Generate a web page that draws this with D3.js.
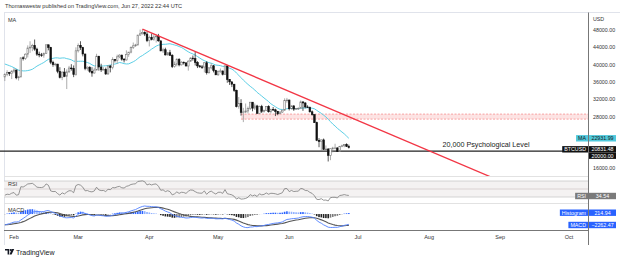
<!DOCTYPE html>
<html>
<head>
<meta charset="utf-8">
<script src="https://cdn.jsdelivr.net/npm/d3@7"></script>
<style>
  body { margin: 0; background: #fff; }
  svg { display: block; font-family: "Liberation Sans", Arial, sans-serif; }
</style>
</head>
<body>
<div id="chart"></div>
<script>
const width = 624, height = 260;

// BTCUSD daily candles, 2022-01-28 .. 2022-06-27
const firstDay = Date.UTC(2022, 0, 28);
const opens = [
  37150, 37710, 38170, 37920,
  38480, 38740, 36950, 37150, 41570, 41380, 42410, 43840, 44040, 44370, 43570, 42410, 42240, 42200, 42590, 44580, 43960, 40540, 40000, 40120, 38430, 37020, 38270, 37300, 38330, 39210, 39110, 37700,
  43190, 44420, 43920, 42450, 39140, 39400, 38420, 38060, 38740, 41940, 39440, 38790, 38900, 37850, 39670, 39340, 41140, 40950, 41800, 42190, 41250, 41080, 42370, 42890, 43960, 44350, 44550, 46820, 47130, 47460, 47060,
  45540, 46280, 45810, 46410, 46580, 45500, 43170, 43440, 42250, 42750, 42160, 39530, 40080, 41150, 39940, 40550, 40380, 39680, 40800, 41500, 41370, 40480, 39710, 39470, 39450, 40430, 38120, 39240, 39740, 38600,
  37630, 38470, 38530, 37750, 39690, 36550, 36010, 35470, 34060, 30300, 31020, 28940, 29050, 29280, 29860, 31310, 29930, 30440, 28720, 30310, 29200, 29430, 30320, 29100, 29650, 29540, 29200, 28630, 29030, 29470, 31730,
  31800, 29800, 30450, 29700, 29860, 29910, 31370, 31130, 30210, 30110, 29090, 28420, 26580, 22490, 22210, 22590, 20380, 20470, 19020, 20550, 20710, 20720, 19970, 21090, 21230, 21500, 21040
];
const highs = [
  38000, 38700, 38300, 38700,
  39200, 38850, 37400, 41650, 41900, 42600, 44450, 45400, 44800, 45800, 43900, 43000, 42700, 42800, 44600, 44600, 44100, 40900, 40400, 40150, 39400, 38400, 39200, 38900, 39700, 40100, 39800, 44000,
  44900, 45400, 44100, 42500, 39600, 39600, 39400, 39300, 42500, 42000, 40200, 39400, 39300, 39900, 39900, 41700, 41300, 42300, 42400, 42300, 41500, 43300, 42900, 44200, 45100, 44800, 46900, 48100, 48200, 47700, 47600,
  46700, 47200, 47000, 46900, 47100, 45500, 43900, 43900, 42800, 43400, 42400, 40700, 41500, 41500, 40800, 40700, 40600, 41000, 41700, 42100, 42900, 40800, 39900, 39900, 40600, 40800, 39400, 40300, 39900, 38800,
  38600, 39100, 38600, 39900, 39800, 36600, 36100, 35500, 34200, 32500, 32000, 30000, 31000, 30300, 31300, 31300, 31000, 30700, 30500, 30700, 29600, 30400, 30600, 29800, 30200, 29800, 29300, 29200, 29500, 32200, 32300,
  31900, 30600, 30600, 29900, 30100, 31700, 31500, 31300, 30600, 30300, 29400, 28500, 26800, 23000, 22700, 22900, 21300, 20700, 20600, 21000, 21700, 20900, 21200, 21500, 21600, 21800, 21500
];
const lows = [
  36200, 37300, 37400, 36650,
  38000, 36600, 36300, 37050, 40950, 41100, 41650, 42700, 43100, 43200, 42000, 41700, 41800, 41600, 42450, 43300, 40100, 39500, 39600, 38000, 36800, 36400, 37100, 34350, 38050, 38600, 37100, 37450,
  42800, 43400, 41900, 38700, 38600, 38100, 37200, 37900, 38700, 38600, 38300, 38700, 37600, 37600, 38200, 38900, 40500, 40200, 41500, 40900, 40500, 40900, 41800, 42600, 43600, 44100, 44400, 46700, 46950, 46600, 45200,
  44200, 45600, 45500, 45100, 45300, 43100, 42700, 42100, 42100, 42000, 39200, 39300, 39600, 39600, 39800, 40000, 39600, 38600, 40600, 40900, 39800, 39200, 39300, 39000, 38200, 37700, 37900, 38900, 38200, 37600,
  37400, 38100, 37500, 37600, 35800, 35300, 34800, 33700, 30100, 29800, 28200, 26700, 28800, 28700, 29500, 29200, 29500, 28700, 28700, 28800, 28900, 29300, 28900, 28700, 29300, 28100, 28300, 28600, 28800, 29300, 31200,
  29400, 29600, 29300, 29500, 29500, 29900, 29300, 29900, 30000, 28900, 28200, 26500, 22300, 20900, 20100, 20300, 20300, 17600, 17900, 19700, 20400, 19800, 19900, 20900, 20900, 21000, 20600
];
const closes = [
  37710, 38170, 37920, 38480,
  38740, 36950, 37150, 41570, 41380, 42410, 43840, 44040, 44370, 43570, 42410, 42240, 42200, 42590, 44580, 43960, 40540, 40000, 40120, 38430, 37020, 38270, 37300, 38330, 39210, 39110, 37700, 43190,
  44420, 43920, 42450, 39140, 39400, 38420, 38060, 38740, 41940, 39440, 38790, 38900, 37850, 39670, 39340, 41140, 40950, 41800, 42190, 41250, 41080, 42370, 42890, 43960, 44350, 44550, 46820, 47130, 47460, 47060, 45540,
  46280, 45810, 46410, 46580, 45500, 43170, 43440, 42250, 42750, 42160, 39530, 40080, 41150, 39940, 40550, 40380, 39680, 40800, 41500, 41370, 40480, 39710, 39470, 39450, 40430, 38120, 39240, 39740, 38600, 37630,
  38470, 38530, 37750, 39690, 36550, 36010, 35470, 34060, 30300, 31020, 28940, 29050, 29280, 29860, 31310, 29930, 30440, 28720, 30310, 29200, 29430, 30320, 29100, 29650, 29540, 29200, 28630, 29030, 29470, 31730, 31800,
  29800, 30450, 29700, 29860, 29910, 31370, 31130, 30210, 30110, 29090, 28420, 26580, 22490, 22210, 22590, 20380, 20470, 19020, 20550, 20710, 20720, 19970, 21090, 21230, 21500, 21040, 20831
];
// closes before the visible window (2021-12-01 .. 2022-01-27), only used to warm up MA / RSI / MACD
const warmupCloses = [
  57200, 56500, 53600, 49400, 49400, 50600, 50500, 50500, 47700, 47200, 49400, 50100, 46700, 48400, 48900, 47700,
  46200, 46900, 46700, 46900, 49000, 48600, 50800, 50400, 50800, 50600, 50700, 47500, 46500, 47100, 46300,
  47700, 47300, 46400, 45800, 43400, 43100, 41600, 41700, 41900, 41800, 42700, 43900, 42600, 43100, 43200, 43100,
  42200, 42400, 41700, 40700, 36500, 35100, 36300, 36700, 37000, 36900, 37200
];

// drawings
const trendStart = { date: Date.UTC(2022, 2, 29), price: 48200 };
const trendEnd = { date: Date.UTC(2022, 7, 28), price: 14000 };
const resistZone = { from: Date.UTC(2022, 4, 11), top: 28550, bottom: 27400 };
const psychLevel = 20000;
const psychText = '20,000 Psychological Level';

// axis
const priceTicks = [16000, 20000, 24000, 28000, 32000, 36000, 40000, 44000, 48000];
const monthTicks = ['Feb', 'Mar', 'Apr', 'May', 'Jun', 'Jul', 'Aug', 'Sep', 'Oct'];

// last values shown on the scale tags
const maValue = '22931.99', lastPrice = '20831.48', levelValue = '20000.00';
const rsiValue = '34.54', histValue = '214.94', macdValue = '\u22122262.47';

const day = 864e5;
const candles = closes.map((c, i) => ({
  date: new Date(firstDay + i * day), o: opens[i], h: highs[i], l: lows[i], c: c
}));

// indicators from the closes
const allCloses = warmupCloses.concat(closes);
const off = warmupCloses.length;
const sma = allCloses.map((v, i) => i < 19 ? null : d3.mean(allCloses.slice(i - 19, i + 1)));
function ema(arr, n) {
  const k = 2 / (n + 1); let prev = arr[0];
  return arr.map(v => (prev = v * k + prev * (1 - k)));
}
const ema12 = ema(allCloses, 12), ema26 = ema(allCloses, 26);
const macd = allCloses.map((v, i) => ema12[i] - ema26[i]);
const signal = ema(macd, 9);
const rsi = [];
let ag = 0, al = 0;
allCloses.forEach((v, i) => {
  if (i === 0) { rsi.push(null); return; }
  const ch = v - allCloses[i - 1];
  const g = Math.max(ch, 0), l = Math.max(-ch, 0);
  if (i <= 14) { ag += g / 14; al += l / 14; } else { ag = (ag * 13 + g) / 14; al = (al * 13 + l) / 14; }
  rsi.push(i < 14 ? null : 100 - 100 / (1 + ag / al));
});
const ind = candles.map((d, i) => ({
  date: d.date, ma: sma[i + off], rsi: rsi[i + off],
  macd: macd[i + off], signal: signal[i + off], hist: macd[i + off] - signal[i + off],
  prevHist: macd[i + off - 1] - signal[i + off - 1]
}));

const svg = d3.select('#chart').append('svg')
  .attr('width', width).attr('height', height);

const left = 4, right = 588;
const x = d3.scaleUtc()
  .domain([new Date(Date.UTC(2022, 1, 1)), new Date(Date.UTC(2022, 9, 1))])
  .range([14, 569]);
const y = d3.scaleLinear().domain([16000, 48000]).range([168.4, 30]);
const yRsi = d3.scaleLinear().domain([30, 70]).range([197, 181]);
const yMacd = d3.scaleLinear().domain([-3500, 2200]).range([230, 204]);

// header
svg.append('text').attr('x', 5).attr('y', 8).attr('font-size', 5.6).attr('fill', '#333')
  .text('Thomaswestw published on TradingView.com, Jun 27, 2022 22:44 UTC');

// frame and pane separators
svg.append('line').attr('x1', left).attr('x2', 620).attr('y1', 12.5).attr('y2', 12.5).attr('stroke', '#e0e3eb');
svg.append('line').attr('x1', left + .5).attr('x2', left + .5).attr('y1', 12.5).attr('y2', 245).attr('stroke', '#e0e3eb');
[176.5, 203.5].forEach(v => svg.append('line').attr('x1', left).attr('x2', right).attr('y1', v).attr('y2', v).attr('stroke', '#e2e2e2'));

svg.append('text').attr('x', 8).attr('y', 22).attr('font-size', 5.5).attr('fill', '#333').text('MA');

const main = svg.append('g');
svg.append('clipPath').attr('id', 'mainClip').append('rect')
  .attr('x', left).attr('y', 13).attr('width', right - left).attr('height', 163);

// resistance zone
const zone = main.append('g');
zone.append('rect')
  .attr('x', x(resistZone.from)).attr('width', right - x(resistZone.from))
  .attr('y', y(resistZone.top)).attr('height', y(resistZone.bottom) - y(resistZone.top))
  .attr('fill', '#fde3e3');
[resistZone.top, resistZone.bottom].forEach(v => zone.append('line')
  .attr('x1', x(resistZone.from)).attr('x2', right).attr('y1', y(v)).attr('y2', y(v))
  .attr('stroke', '#f7a1a1').attr('stroke-width', 1).attr('stroke-dasharray', '2,1.5'));

// 20k level
main.append('line').attr('x1', 0).attr('x2', right).attr('y1', y(psychLevel)).attr('y2', y(psychLevel))
  .attr('stroke', '#222').attr('stroke-width', 1.2);
main.append('text').attr('x', 486).attr('y', y(psychLevel) - 4.5).attr('text-anchor', 'middle')
  .attr('font-size', 7.2).attr('fill', '#222').text(psychText);

// MA line
main.append('path').datum(ind)
  .attr('fill', 'none').attr('stroke', '#5ccfe6').attr('stroke-width', 1)
  .attr('d', d3.line().x(d => x(d.date)).y(d => y(d.ma)));

// candles
const bw = 1.6;
const cg = main.append('g').selectAll('g').data(candles).join('g');
cg.append('line')
  .attr('x1', d => x(d.date)).attr('x2', d => x(d.date))
  .attr('y1', d => y(d.h)).attr('y2', d => y(d.l))
  .attr('stroke', d => d.c >= d.o ? '#8a8a8a' : '#111').attr('stroke-width', 0.7);
cg.append('rect')
  .attr('x', d => x(d.date) - bw / 2).attr('width', bw)
  .attr('y', d => y(Math.max(d.o, d.c)))
  .attr('height', d => Math.max(0.7, Math.abs(y(d.o) - y(d.c))))
  .attr('fill', d => d.c >= d.o ? '#fff' : '#111')
  .attr('stroke', d => d.c >= d.o ? '#7a7a7a' : '#111').attr('stroke-width', 0.6);

// trend line
main.append('line').attr('clip-path', 'url(#mainClip)')
  .attr('x1', x(trendStart.date)).attr('y1', y(trendStart.price))
  .attr('x2', x(trendEnd.date)).attr('y2', y(trendEnd.price))
  .attr('stroke', '#f23645').attr('stroke-width', 1.3);

// RSI pane
svg.append('rect').attr('x', left).attr('width', right - left)
  .attr('y', yRsi(70)).attr('height', yRsi(30) - yRsi(70)).attr('fill', '#f4f2f2');
[70, 50, 30].forEach(v => svg.append('line').attr('x1', left).attr('x2', right)
  .attr('y1', yRsi(v)).attr('y2', yRsi(v)).attr('stroke', v === 50 ? '#e3dcdc' : '#c9c9c9').attr('stroke-width', v === 50 ? 1.5 : 0.8));
svg.append('text').attr('x', 8).attr('y', 185.5).attr('font-size', 5.5).attr('fill', '#333').text('RSI');
svg.append('path').datum(ind)
  .attr('fill', 'none').attr('stroke', '#7b7b7b').attr('stroke-width', 0.8)
  .attr('d', d3.line().x(d => x(d.date)).y(d => yRsi(d.rsi)));

// MACD pane
svg.append('g').selectAll('rect').data(ind).join('rect')
  .attr('x', d => x(d.date) - 0.8).attr('width', 1.6)
  .attr('y', d => yMacd(Math.max(0, d.hist)))
  .attr('height', d => Math.abs(yMacd(d.hist) - yMacd(0)))
  .attr('fill', d => d.hist >= 0 ? (d.hist >= d.prevHist ? '#2962ff' : '#8fb0ff')
                                   : (d.hist <= d.prevHist ? '#222' : '#777'));
svg.append('path').datum(ind)
  .attr('fill', 'none').attr('stroke', '#555').attr('stroke-width', 1.1)
  .attr('d', d3.line().x(d => x(d.date)).y(d => yMacd(d.signal)));
svg.append('path').datum(ind)
  .attr('fill', 'none').attr('stroke', '#4f7fff').attr('stroke-width', 0.9)
  .attr('d', d3.line().x(d => x(d.date)).y(d => yMacd(d.macd)));
svg.append('text').attr('x', 8).attr('y', 211.5).attr('font-size', 5.5).attr('fill', '#333').text('MACD');

// time axis
svg.append('line').attr('x1', left).attr('x2', right).attr('y1', 230.5).attr('y2', 230.5).attr('stroke', '#777');
svg.append('g').selectAll('text').data(monthTicks).join('text')
  .attr('x', (d, i) => x(new Date(Date.UTC(2022, 1 + i, 1))))
  .attr('y', 239).attr('text-anchor', 'middle').attr('font-size', 5.5).attr('fill', '#333')
  .text(d => d);

// scale tags (positions first, so tick labels hidden behind them can be skipped)
const last = ind[ind.length - 1];
const tags = [
  { name: 'MA', value: maValue, cy: y(last.ma), bg: '#4fc9dc', fg: '#1a1a1a' },
  { name: 'BTCUSD', value: lastPrice, cy: y(closes[closes.length - 1]) + 1.8, bg: '#111', fg: '#fff' },
  { name: null, value: levelValue, cy: y(psychLevel) + 4.6, bg: '#111', fg: '#fff' },
  { name: 'RSI', value: rsiValue, cy: 196, bg: '#7a7a7a', fg: '#fff' },
  { name: 'Histogram', value: histValue, cy: 212.7, bg: '#2962ff', fg: '#fff' },
  { name: 'MACD', value: macdValue, cy: 225, bg: '#2962ff', fg: '#fff' }
];

// price scale
svg.append('line').attr('x1', right + .5).attr('x2', right + .5).attr('y1', 12.5).attr('y2', 245).attr('stroke', '#777');
svg.append('text').attr('x', 593).attr('y', 21).attr('font-size', 5.3).attr('fill', '#333').text('USD');
svg.append('g').selectAll('text')
  .data(priceTicks.filter(v => tags.every(t => Math.abs(t.cy - y(v)) > 6.5)))
  .join('text')
  .attr('x', 593).attr('y', d => y(d) + 2).attr('font-size', 5.3).attr('fill', '#333')
  .text(d => d3.format('.2f')(d));

function tag(t) {
  const g = svg.append('g').attr('font-size', 5.3);
  const h = 6.4;
  g.append('rect').attr('x', 589).attr('y', t.cy - h / 2).attr('width', 27).attr('height', h).attr('fill', t.bg);
  g.append('text').attr('x', 602.5).attr('y', t.cy + 1.9).attr('text-anchor', 'middle').attr('fill', t.fg).text(t.value);
  if (!t.name) return;
  const lbl = g.append('text').attr('x', 586).attr('y', t.cy + 1.9).attr('text-anchor', 'end').attr('fill', t.fg).text(t.name);
  const w = lbl.node().getComputedTextLength() + 4;
  g.insert('rect', 'text:last-child').attr('x', 588 - w).attr('y', t.cy - h / 2).attr('width', w).attr('height', h).attr('fill', t.bg);
}
tags.forEach(tag);

// TradingView logo
const logo = svg.append('g').attr('transform', 'translate(5,249)').attr('fill', '#131722');
logo.append('path').attr('d', 'M0 0h4.2v5.4h-1.6v-3.8h-2.6z');
logo.append('circle').attr('cx', 5.6).attr('cy', 1).attr('r', 1);
logo.append('path').attr('d', 'M6.6 0h2.6l-2.6 5.4h-2z');
svg.append('text').attr('x', 16).attr('y', 254.5).attr('font-size', 7).attr('fill', '#131722').text('TradingView');
</script>
</body>
</html>
